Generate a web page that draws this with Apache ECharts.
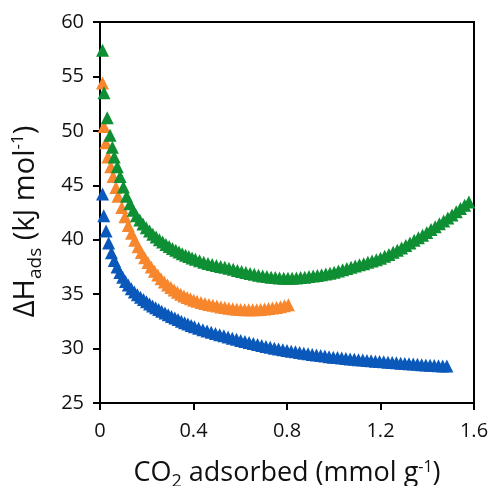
<!DOCTYPE html>
<html>
<head>
<meta charset="utf-8">
<script src="https://cdn.jsdelivr.net/npm/echarts@6/dist/echarts.min.js"></script>
<style>
  html, body { margin: 0; padding: 0; background: #fff; }
  #chart { width: 491px; height: 486px; }
</style>
</head>
<body>
<div id="chart"></div>
<script>
// Isosteric heat of adsorption vs CO2 loading, three samples
const xTicks = [0, 0.4, 0.8, 1.2, 1.6];
const yTicks = [25, 30, 35, 40, 45, 50, 55, 60];

const blueX = [0.011, 0.016, 0.026, 0.037, 0.049, 0.061, 0.073, 0.085, 0.097, 0.109, 0.121, 0.134, 0.147, 0.160, 0.173, 0.186, 0.199, 0.212, 0.225, 0.238, 0.251, 0.264, 0.278, 0.292, 0.306, 0.320, 0.334, 0.348, 0.362, 0.376, 0.390, 0.404, 0.422, 0.440, 0.458, 0.476, 0.494, 0.512, 0.530, 0.548, 0.566, 0.584, 0.602, 0.620, 0.638, 0.656, 0.674, 0.692, 0.710, 0.728, 0.746, 0.764, 0.782, 0.800, 0.818, 0.836, 0.854, 0.872, 0.890, 0.908, 0.926, 0.944, 0.962, 0.980, 0.998, 1.016, 1.034, 1.052, 1.070, 1.088, 1.106, 1.124, 1.142, 1.160, 1.178, 1.196, 1.214, 1.232, 1.250, 1.268, 1.286, 1.304, 1.322, 1.340, 1.358, 1.376, 1.394, 1.412, 1.430, 1.448, 1.466, 1.484];
const blueY = [44.2, 42.2, 40.8, 39.7, 38.8, 38.1, 37.5, 36.98, 36.55, 36.17, 35.83, 35.5, 35.2, 34.95, 34.72, 34.5, 34.3, 34.1, 33.92, 33.75, 33.58, 33.42, 33.26, 33.1, 32.95, 32.8, 32.66, 32.52, 32.38, 32.25, 32.12, 32.0, 31.87, 31.74, 31.62, 31.5, 31.39, 31.28, 31.17, 31.06, 30.95, 30.85, 30.75, 30.65, 30.55, 30.46, 30.37, 30.28, 30.2, 30.12, 30.04, 29.97, 29.9, 29.83, 29.76, 29.7, 29.64, 29.58, 29.52, 29.46, 29.41, 29.36, 29.31, 29.26, 29.21, 29.17, 29.13, 29.09, 29.05, 29.01, 28.97, 28.94, 28.9, 28.87, 28.84, 28.81, 28.78, 28.75, 28.72, 28.69, 28.66, 28.63, 28.6, 28.58, 28.55, 28.52, 28.5, 28.47, 28.45, 28.43, 28.41, 28.39];

const orangeX = [0.011, 0.017, 0.025, 0.034, 0.046, 0.056, 0.068, 0.077, 0.093, 0.107, 0.121, 0.135, 0.149, 0.163, 0.177, 0.191, 0.205, 0.219, 0.233, 0.247, 0.261, 0.275, 0.289, 0.303, 0.317, 0.331, 0.345, 0.359, 0.373, 0.387, 0.401, 0.415, 0.432, 0.449, 0.466, 0.483, 0.500, 0.517, 0.534, 0.551, 0.568, 0.585, 0.602, 0.619, 0.636, 0.653, 0.670, 0.687, 0.704, 0.721, 0.738, 0.755, 0.772, 0.789, 0.806];
const orangeY = [54.4, 50.4, 48.9, 47.6, 46.7, 45.8, 44.8, 44.0, 42.95, 42.1, 41.3, 40.6, 39.95, 39.35, 38.82, 38.35, 37.9, 37.5, 37.1, 36.75, 36.42, 36.12, 35.85, 35.6, 35.38, 35.18, 35.0, 34.84, 34.7, 34.57, 34.45, 34.35, 34.24, 34.14, 34.05, 33.97, 33.9, 33.83, 33.77, 33.71, 33.66, 33.62, 33.59, 33.57, 33.56, 33.56, 33.57, 33.6, 33.63, 33.67, 33.72, 33.78, 33.85, 33.93, 34.02];

const greenX = [0.011, 0.017, 0.031, 0.043, 0.053, 0.061, 0.074, 0.086, 0.100, 0.114, 0.128, 0.142, 0.156, 0.170, 0.184, 0.198, 0.212, 0.226, 0.240, 0.254, 0.268, 0.282, 0.296, 0.310, 0.324, 0.338, 0.352, 0.366, 0.380, 0.394, 0.408, 0.426, 0.444, 0.462, 0.480, 0.498, 0.516, 0.534, 0.552, 0.570, 0.588, 0.606, 0.624, 0.642, 0.660, 0.678, 0.696, 0.714, 0.732, 0.750, 0.768, 0.786, 0.804, 0.822, 0.840, 0.858, 0.876, 0.894, 0.912, 0.930, 0.948, 0.966, 0.984, 1.002, 1.020, 1.038, 1.056, 1.074, 1.092, 1.110, 1.128, 1.146, 1.164, 1.182, 1.200, 1.218, 1.236, 1.254, 1.272, 1.290, 1.308, 1.326, 1.344, 1.362, 1.380, 1.398, 1.416, 1.434, 1.452, 1.470, 1.488, 1.506, 1.524, 1.542, 1.560, 1.578];
const greenY = [57.4, 53.5, 51.2, 49.6, 48.5, 47.6, 46.7, 45.8, 44.85, 44.0, 43.3, 42.7, 42.2, 41.8, 41.45, 41.1, 40.8, 40.5, 40.25, 40.0, 39.78, 39.57, 39.38, 39.2, 39.03, 38.87, 38.72, 38.58, 38.45, 38.32, 38.2, 38.06, 37.93, 37.82, 37.72, 37.63, 37.54, 37.46, 37.37, 37.28, 37.18, 37.08, 36.98, 36.9, 36.82, 36.74, 36.67, 36.61, 36.56, 36.52, 36.49, 36.47, 36.46, 36.47, 36.49, 36.52, 36.56, 36.61, 36.67, 36.72, 36.78, 36.85, 36.93, 37.02, 37.12, 37.23, 37.35, 37.47, 37.58, 37.69, 37.8, 37.92, 38.04, 38.17, 38.3, 38.47, 38.65, 38.84, 39.04, 39.25, 39.47, 39.7, 39.94, 40.18, 40.42, 40.67, 40.93, 41.19, 41.46, 41.73, 42.0, 42.28, 42.57, 42.86, 43.16, 43.46];

const zip = (xs, ys) => xs.map((x, i) => [x, ys[i]]);

const FONT = 'Open Sans';
const chart = echarts.init(document.getElementById('chart'), null, { renderer: 'canvas' });

function series(name, xs, ys, color) {
  return {
    name, type: 'scatter', symbol: 'triangle', symbolSize: 13,
    itemStyle: { color, opacity: 1 },
    data: zip(xs, ys), z: 3
  };
}

function titleRich(size) {
  const lh = Math.round(size * 1.3);
  return {
    n: { fontFamily: FONT, fontSize: size, color: '#111', lineHeight: lh },
    sub: { fontFamily: FONT, fontSize: Math.round(size * 0.66), color: '#111', lineHeight: lh, verticalAlign: 'bottom' },
    sup: { fontFamily: FONT, fontSize: Math.round(size * 0.6), color: '#111', lineHeight: lh, verticalAlign: 'top', padding: [3, 0, 0, 0] }
  };
}

chart.setOption({
  animation: false,
  backgroundColor: '#fff',
  grid: {
    left: 100, right: 17, top: 22, bottom: 83,
    containLabel: false, outerBoundsMode: 'none',
    show: true, borderColor: '#000', borderWidth: 2, backgroundColor: 'transparent'
  },
  xAxis: {
    type: 'value', min: xTicks[0], max: xTicks[xTicks.length - 1], interval: 0.4,
    axisLine: { show: true, lineStyle: { color: '#000', width: 2 } },
    axisTick: { show: true, inside: false, length: 7, lineStyle: { color: '#000', width: 2 } },
    splitLine: { show: false },
    axisLabel: { color: '#111', fontFamily: FONT, fontSize: 20, margin: 18,
      formatter: v => (xTicks.includes(+v.toFixed(1)) ? (+v.toFixed(1)).toString() : '') },
    name: '{n|CO}{sub|2}{n| adsorbed (mmol g}{sup|-1}{n|)}',
    nameLocation: 'middle', nameGap: 53,
    nameTextStyle: { color: '#111', fontFamily: FONT, fontSize: 27, rich: titleRich(27) }
  },
  yAxis: {
    type: 'value', min: yTicks[0], max: yTicks[yTicks.length - 1], interval: 5,
    axisLine: { show: true, lineStyle: { color: '#000', width: 2 } },
    axisTick: { show: true, inside: false, length: 7, lineStyle: { color: '#000', width: 2 } },
    splitLine: { show: false },
    axisLabel: { color: '#111', fontFamily: FONT, fontSize: 20, margin: 16 },
    name: '{n|ΔH}{sub|ads}{n| (kJ mol}{sup|-1}{n|)}',
    nameLocation: 'middle', nameGap: 55, nameRotate: 90,
    nameTextStyle: { color: '#111', fontFamily: FONT, fontSize: 29, rich: titleRich(29), padding: [0, 18, 0, 0] }
  },
  series: [
    series('blue', blueX, blueY, '#0a58ba'),
    series('orange', orangeX, orangeY, '#f7862c'),
    series('green', greenX, greenY, '#0f8f33')
  ]
});
</script>
</body>
</html>
